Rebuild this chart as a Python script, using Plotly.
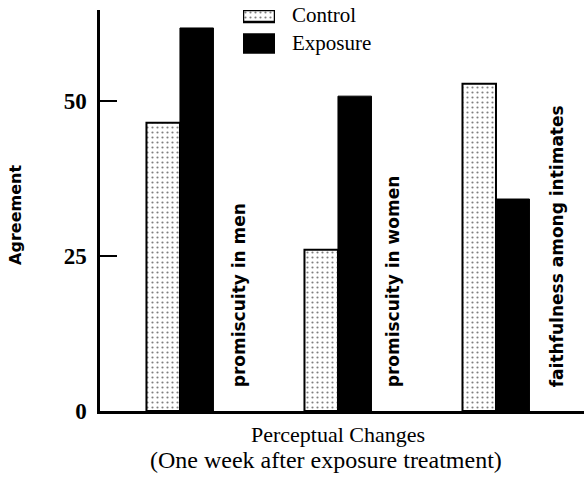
import plotly.graph_objects as go

categories = ["promiscuity in men", "promiscuity in women", "faithfulness among intimates"]
control = [46.5, 26.0, 52.8]
exposure = [61.8, 50.8, 34.2]
y_ticks = [0, 25, 50]
series_names = ["Control", "Exposure"]

SERIF = "Liberation Serif"
SANS = "DejaVu Sans"
dots = dict(shape=".", fgcolor="black", bgcolor="white", size=5, solidity=0.15)

fig = go.Figure()
fig.add_trace(go.Bar(
    x=categories, y=control, name=series_names[0],
    marker=dict(color="white", line=dict(color="black", width=2), pattern=dots),
    showlegend=False,
))
fig.add_trace(go.Bar(
    x=categories, y=exposure, name=series_names[1],
    marker=dict(color="black", line=dict(color="black", width=1)),
    showlegend=False,
))

# legend swatches drawn on a small hidden overlay axis
fig.add_trace(go.Bar(x=[0], y=[0.03], base=[0.970], width=1, offset=-0.5,
                     xaxis="x2", yaxis="y2", showlegend=False, hoverinfo="skip",
                     marker=dict(color="white", line=dict(color="black", width=2.5), pattern=dots)))
fig.add_trace(go.Bar(x=[0], y=[0.045], base=[0.894], width=1, offset=-0.5,
                     xaxis="x2", yaxis="y2", showlegend=False, hoverinfo="skip",
                     marker=dict(color="black", line=dict(color="black", width=2.5))))
for name, yy in [(series_names[0], 0.9875), (series_names[1], 0.9177)]:
    fig.add_annotation(xref="paper", yref="paper", x=(290 - 100) / 484, y=yy,
                       text=name, showarrow=False, xanchor="left", yanchor="middle",
                       font=dict(family=SERIF, size=21, color="black"))

# rotated category labels to the right of each group
for c, dx in zip(categories, [59, 55, 61]):
    fig.add_annotation(x=c, y=3.5, xref="x", yref="y", text=c, textangle=-90,
                       showarrow=False, xanchor="center", yanchor="bottom",
                       xshift=dx, font=dict(family=SANS, size=17, color="black", weight="bold"))

# y-axis title
fig.add_annotation(xref="paper", yref="paper", x=(16 - 100) / 484, y=0.489, text="Agreement",
                   textangle=-90, showarrow=False, xanchor="center", yanchor="middle",
                   font=dict(family=SANS, size=16, color="black", weight="bold"))

# x-axis title lines
fig.add_annotation(xref="paper", yref="paper", x=(338 - 100) / 484, y=-0.0574, text="Perceptual Changes",
                   showarrow=False, xanchor="center", yanchor="middle",
                   font=dict(family=SERIF, size=22, color="black"))
fig.add_annotation(xref="paper", yref="paper", x=(326 - 100) / 484, y=-0.1222,
                   text="(One week after exposure treatment)",
                   showarrow=False, xanchor="center", yanchor="middle",
                   font=dict(family=SERIF, size=24, color="black"))

fig.update_layout(
    width=584, height=481,
    margin=dict(l=100, r=0, t=10, b=70),
    paper_bgcolor="white", plot_bgcolor="white",
    barmode="group", bargap=0.576, bargroupgap=0,
    font=dict(family=SERIF, size=16, color="black"),
    xaxis=dict(range=[-0.506, 2.557], showticklabels=False, ticks="",
               showline=True, linecolor="black", linewidth=2.5, showgrid=False, zeroline=False),
    yaxis=dict(range=[0, 64.7], tickvals=y_ticks, ticks="inside", ticklen=17, tickwidth=2,
               tickcolor="black", showline=True, linecolor="black", linewidth=2.5,
               showgrid=False, zeroline=False, ticklabelstandoff=6,
               tickfont=dict(family=SERIF, size=23, weight="bold")),
    xaxis2=dict(domain=[(243 - 100) / 484, (275 - 100) / 484], anchor="y2", range=[-0.5, 0.5],
                visible=False, fixedrange=True),
    yaxis2=dict(domain=[0, 1], anchor="x2", range=[0, 1], visible=False, fixedrange=True),
)

fig.write_html("out.html", config={"displayModeBar": False},
               post_script="document.body.style.margin='0';document.body.style.overflow='hidden';")
